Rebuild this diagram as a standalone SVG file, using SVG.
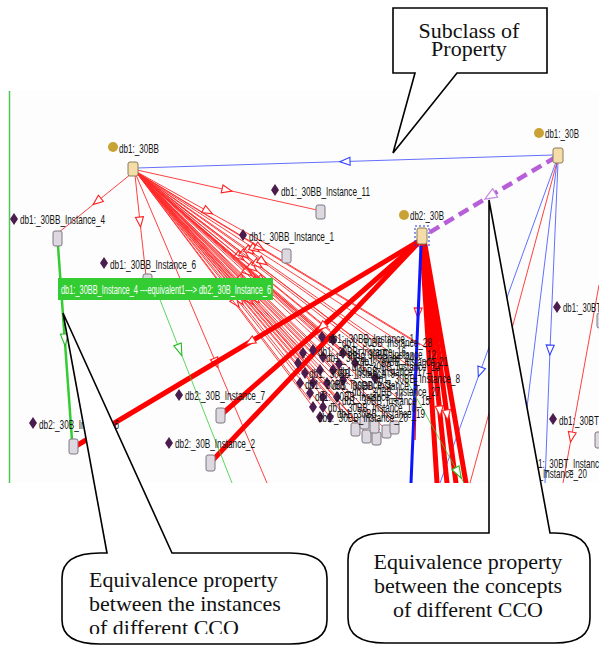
<svg xmlns="http://www.w3.org/2000/svg" xmlns:xlink="http://www.w3.org/1999/xlink" width="599" height="647" viewBox="0 0 599 647">
<style>
.lbl{font-family:"Liberation Sans",Arial,sans-serif;font-size:13px;fill:#141414}
.cc{fill:#c9a235}
.cs{fill:#f4dda8;stroke:#8a7a5a;stroke-width:1}
.dd{fill:#4b1d4f}
.is{fill:#ddd7e0;stroke:#7d7880;stroke-width:1}
.r{stroke:#ff2a2a;stroke-width:0.9;fill:none}
.rm{marker-mid:url(#ar)}
.rt{stroke:#ff0000;stroke-width:5;fill:none;stroke-linecap:round}
.b{stroke:#5060ff;stroke-width:0.9;fill:none;marker-mid:url(#ab)}
.g{stroke:#33cc33;fill:none;marker-mid:url(#ag)}
.call{fill:#fff;stroke:#000;stroke-width:1.6;stroke-linejoin:miter}
.ct{font-family:"Liberation Serif","Times New Roman",serif;font-size:22px;fill:#111}
</style>
<defs>
<marker id="ar" viewBox="0 0 12 10" refX="6" refY="5" markerWidth="12" markerHeight="10" markerUnits="userSpaceOnUse" orient="auto"><path d="M1,1 L11,5 L1,9 Z" fill="#fff" stroke="#ff2020" stroke-width="1.1"/></marker>
<marker id="ab" viewBox="0 0 12 10" refX="6" refY="5" markerWidth="12" markerHeight="10" markerUnits="userSpaceOnUse" orient="auto"><path d="M1,1 L11,5 L1,9 Z" fill="#fff" stroke="#3040ff" stroke-width="1.1"/></marker>
<marker id="ag" viewBox="0 0 14 10" refX="7" refY="5" markerWidth="14" markerHeight="10" markerUnits="userSpaceOnUse" orient="auto"><path d="M1,1 L13,5 L1,9 Z" fill="#fff" stroke="#22bb22" stroke-width="1.1"/></marker>
<marker id="ap" viewBox="0 0 14 12" refX="7" refY="6" markerWidth="14" markerHeight="12" markerUnits="userSpaceOnUse" orient="auto"><path d="M1,1 L13,6 L1,11 Z" fill="#fff" stroke="#c48ae0" stroke-width="1.2"/></marker>
<path id="dia" d="M0,-6 L4,0 L0,6 L-4,0 Z"/>
<clipPath id="scr"><rect x="9" y="91" width="590" height="392"/></clipPath>
<clipPath id="lt"><rect x="60" y="560" width="270" height="74"/></clipPath>
</defs>

<rect x="9" y="91" width="590" height="392" fill="#fdfdfd"/>
<line x1="9.5" y1="91" x2="9.5" y2="483" stroke="#55c455" stroke-width="1.5"/>

<g clip-path="url(#scr)">
<g id="connectors">
<!-- fan from db1:_30BB to cluster -->
<path class="r rm" d="M136,172 L240,257 L330,330"/>
<path class="r rm" d="M136,172 L245,255 L350,335"/>
<path class="r rm" d="M136,172 L250,251 L375,338"/>
<path class="r rm" d="M136,172 L255,249 L400,342"/>
<path class="r rm" d="M136,172 L260,248 L420,345"/>
<path class="r rm" d="M136,172 L242,280 L310,350"/>
<path class="r rm" d="M136,172 L248,272.5 L340,355"/>
<path class="r rm" d="M136,172 L253,268 L365,360"/>
<path class="r rm" d="M136,172 L258,264.7 L390,365"/>
<path class="r rm" d="M136,172 L263,262 L415,370"/>
<path class="r rm" d="M136,172 L240,300.7 L300,375"/>
<path class="r rm" d="M136,172 L246,293 L325,380"/>
<path class="r rm" d="M136,172 L251,286.4 L350,385"/>
<path class="r rm" d="M136,172 L256,282.4 L375,392"/>
<path class="r rm" d="M136,172 L262,280.8 L400,400"/>
<path class="r rm" d="M136,172 L236,303 L310,400"/>
<path class="r rm" d="M136,172 L244,298 L340,410"/>
<path class="r rm" d="M136,172 L250,300.8 L360,425"/>
<path class="r rm" d="M136,172 L256,299 L380,430"/>
<path class="r rm" d="M136,172 L262,295 L395,425"/>
<path class="r" d="M136,172 L355,425"/>
<path class="r" d="M136,172 L368,435"/>
<path class="r" d="M136,172 L386,430"/>
<path class="r" d="M136,172 L322,337"/>
<path class="r" d="M136,172 L333,340"/>
<path class="r" d="M136,172 L303,353"/>
<path class="r" d="M136,172 L343,353"/>
<path class="r" d="M136,172 L355,363"/>
<path class="r" d="M136,172 L320,370"/>
<path class="r" d="M136,172 L375,378"/>
<path class="r" d="M136,172 L313,383"/>
<path class="r" d="M136,172 L343,380"/>
<path class="r" d="M136,172 L323,397"/>
<path class="r" d="M136,172 L337,397"/>
<path class="r" d="M136,172 L313,407"/>
<path class="r" d="M136,172 L330,417"/>
<path class="r" d="M136,172 L394,421"/>
<path class="r" d="M136,172 L430,350"/>
<path class="r" d="M136,172 L410,385"/>
<!-- db1:_30BB to its instances -->
<path class="r rm" d="M131,174 L97,201.5 L58,233"/>
<path class="r rm" d="M137,170 L227,190 L317,210"/>
<path class="r rm" d="M137,172 L208,211.4 L283,253"/>
<path class="r rm" d="M135,175 L140,222 L146,276"/>
<path class="r rm" d="M136,175 L216,363 L267,483"/>
<!-- subclass (blue) -->
<path class="b" d="M553,155 L345,161.5 L137,168"/>
<!-- equivalence between concepts (purple dashed) -->
<path d="M556,157 L490,196 L427,234" stroke="#b65fd9" stroke-width="4.5" stroke-dasharray="11 6" fill="none" marker-mid="url(#ap)"/>
<!-- db1:_30B blue/red edges -->
<path class="b" d="M556,162 L480,372 L440,483"/>
<path class="b" d="M557,162 L524,432 L518,483"/>
<path class="b" d="M558,162 L550,350 L545,483"/>
<path class="r rm" d="M557,162 L507,347 L470,483"/>
<path class="r rm" d="M599,285 L571.4,437 L563,483"/>
<!-- thick edges from db2:_30B -->
<path class="rt rm" d="M421,240 L250,342 L76,446"/>
<path class="rt rm" d="M421,240 L321.5,327 L222,414"/>
<path class="rt" d="M421,240 L212,461"/>
<path class="rt" d="M422,245 L437,483"/>
<path class="rt rm" d="M423,245 L439.7,411 L447,483"/>
<path class="rt rm" d="M424,245 L447,415 L456,483"/>
<path class="rt" d="M425,245 L466,483"/>
<path d="M421,246 L418,313 L415,440" stroke="#ff0000" stroke-width="1.3" fill="none" marker-mid="url(#ar)"/>
<line x1="421" y1="246" x2="411" y2="483" stroke="#0a14ff" stroke-width="3"/>
<!-- green edges -->
<path class="g" stroke-width="2.5" d="M58,246 L64.8,340 L72,440"/>
<path class="g" stroke-width="0.8" d="M155,287 L179.7,350 L232,483"/>
<path class="g" stroke-width="0.8" d="M387,345 L458.4,473 L464,483"/>
</g>

<g id="node-db1-30BB"><circle class="cc" cx="113" cy="147" r="5"/><text class="lbl" x="119" y="153" textLength="40" lengthAdjust="spacingAndGlyphs">db1:_30BB</text><rect class="cs" x="128" y="162" width="10" height="14" rx="2"/></g>
<g id="node-db1-30B"><circle class="cc" cx="539" cy="133" r="5"/><text class="lbl" x="545" y="138" textLength="34" lengthAdjust="spacingAndGlyphs">db1:_30B</text><rect class="cs" x="553" y="148" width="10" height="15" rx="2"/></g>
<g id="node-db2-30B"><circle class="cc" cx="404" cy="215" r="5"/><text class="lbl" x="410" y="220" textLength="34" lengthAdjust="spacingAndGlyphs">db2:_30B</text><rect class="cs" x="417" y="228" width="10" height="16" rx="2"/><rect x="415" y="226" width="14" height="20" fill="none" stroke="#2233dd" stroke-width="1" stroke-dasharray="2 2"/></g>
<g id="node-db1-inst4"><use href="#dia" x="14" y="219" class="dd"/><text class="lbl" x="20" y="224" textLength="85" lengthAdjust="spacingAndGlyphs">db1:_30BB_Instance_4</text><rect class="is" x="53" y="231" width="9" height="15" rx="2"/></g>
<g id="node-db1-inst11"><use href="#dia" x="275" y="190" class="dd"/><text class="lbl" x="281" y="196" textLength="89" lengthAdjust="spacingAndGlyphs">db1:_30BB_Instance_11</text><rect class="is" x="316" y="205" width="9" height="14" rx="2"/></g>
<g id="node-db1-inst1"><use href="#dia" x="243" y="235" class="dd"/><text class="lbl" x="249" y="241" textLength="85" lengthAdjust="spacingAndGlyphs">db1:_30BB_Instance_1</text><rect class="is" x="282" y="249" width="9" height="14" rx="2"/></g>
<g id="node-db1-inst6"><use href="#dia" x="104" y="263" class="dd"/><text class="lbl" x="110" y="269" textLength="86" lengthAdjust="spacingAndGlyphs">db1:_30BB_Instance_6</text><rect class="is" x="143" y="274" width="9" height="14" rx="2"/></g>
<g id="node-db2-inst6"><use href="#dia" x="33" y="423" class="dd"/><text class="lbl" x="39" y="429" textLength="80" lengthAdjust="spacingAndGlyphs">db2:_30B_Instance_6</text><rect class="is" x="69" y="439" width="9" height="15" rx="2"/></g>
<g id="node-db2-inst7"><use href="#dia" x="179" y="395" class="dd"/><text class="lbl" x="185" y="400" textLength="80" lengthAdjust="spacingAndGlyphs">db2:_30B_Instance_7</text><rect class="is" x="216" y="408" width="9" height="15" rx="2"/></g>
<g id="node-db2-inst2"><use href="#dia" x="169" y="443" class="dd"/><text class="lbl" x="175" y="448" textLength="80" lengthAdjust="spacingAndGlyphs">db2:_30B_Instance_2</text><rect class="is" x="206" y="455" width="9" height="16" rx="2"/></g>
<g id="node-db1-30BT-a"><use href="#dia" x="557" y="307" class="dd"/><text class="lbl" x="563" y="312" textLength="38" lengthAdjust="spacingAndGlyphs">db1:_30BT</text><rect class="is" x="597" y="313" width="9" height="15" rx="2"/></g>
<g id="node-db1-30BT-b"><use href="#dia" x="553" y="419" class="dd"/><text class="lbl" x="559" y="425" textLength="40" lengthAdjust="spacingAndGlyphs">db1:_30BT</text><rect class="is" x="595" y="432" width="9" height="16" rx="2"/></g>
<g id="node-db1-30BT-inst"><use href="#dia" x="523" y="462" class="dd"/><text class="lbl" x="529" y="468" textLength="70" lengthAdjust="spacingAndGlyphs">db1:_30BT_Instanc</text></g>
<g id="node-db1-30BT-inst20"><use href="#dia" x="493" y="473" class="dd"/><text class="lbl" x="499" y="478" textLength="88" lengthAdjust="spacingAndGlyphs">db1:_30BT_Instance_20</text></g>

<g id="node-cluster">
<rect class="is" x="351" y="423" width="9" height="13" rx="2"/>
<rect class="is" x="362" y="430" width="9" height="13" rx="2"/>
<rect class="is" x="372" y="432" width="9" height="13" rx="2"/>
<rect class="is" x="382" y="425" width="9" height="13" rx="2"/>
<rect class="is" x="390" y="421" width="9" height="13" rx="2"/>
<rect class="is" x="370" y="420" width="9" height="13" rx="2"/>
<rect class="is" x="360" y="416" width="9" height="13" rx="2"/>
<g class="dd">
<use href="#dia" x="322" y="337"/><use href="#dia" x="333" y="340"/><use href="#dia" x="303" y="353"/><use href="#dia" x="313" y="350"/>
<use href="#dia" x="323" y="357"/><use href="#dia" x="343" y="353"/><use href="#dia" x="305" y="373"/><use href="#dia" x="320" y="370"/>
<use href="#dia" x="333" y="370"/><use href="#dia" x="300" y="383"/><use href="#dia" x="313" y="383"/><use href="#dia" x="327" y="383"/>
<use href="#dia" x="343" y="380"/><use href="#dia" x="355" y="363"/><use href="#dia" x="375" y="378"/><use href="#dia" x="310" y="393"/>
<use href="#dia" x="323" y="397"/><use href="#dia" x="337" y="397"/><use href="#dia" x="313" y="407"/><use href="#dia" x="323" y="407"/>
<use href="#dia" x="320" y="417"/><use href="#dia" x="330" y="417"/><use href="#dia" x="298" y="363"/><use href="#dia" x="339" y="364"/>
</g>
<text class="lbl" x="328" y="343" textLength="86" lengthAdjust="spacingAndGlyphs">db1:_30BB_Instance_1</text>
<text class="lbl" x="342" y="347" textLength="90" lengthAdjust="spacingAndGlyphs">db1:_30BB_Instance_28</text>
<text class="lbl" x="318" y="356" textLength="88" lengthAdjust="spacingAndGlyphs">db1:_30BB_Instance_16</text>
<text class="lbl" x="348" y="359" textLength="88" lengthAdjust="spacingAndGlyphs">db1:_30BB_Instance_12</text>
<text class="lbl" x="360" y="366" textLength="88" lengthAdjust="spacingAndGlyphs">db1:_30BB_Instance_21</text>
<text class="lbl" x="326" y="362" textLength="88" lengthAdjust="spacingAndGlyphs">db1:_30BB_Instance_24</text>
<text class="lbl" x="309" y="378" textLength="86" lengthAdjust="spacingAndGlyphs">db1:_30BB_Instance_9</text>
<text class="lbl" x="338" y="376" textLength="88" lengthAdjust="spacingAndGlyphs">db1:_30BB_Instance_17</text>
<text class="lbl" x="352" y="371" textLength="88" lengthAdjust="spacingAndGlyphs">db1:_30BB_Instance_23</text>
<text class="lbl" x="374" y="383" textLength="86" lengthAdjust="spacingAndGlyphs">db1:_30BB_Instance_8</text>
<text class="lbl" x="305" y="389" textLength="86" lengthAdjust="spacingAndGlyphs">db1:_30BB_Instance_3</text>
<text class="lbl" x="332" y="390" textLength="86" lengthAdjust="spacingAndGlyphs">db1:_30BB_Instance_5</text>
<text class="lbl" x="352" y="396" textLength="88" lengthAdjust="spacingAndGlyphs">db1:_30BB_Instance_27</text>
<text class="lbl" x="315" y="401" textLength="88" lengthAdjust="spacingAndGlyphs">db1:_30BB_Instance_14</text>
<text class="lbl" x="342" y="405" textLength="88" lengthAdjust="spacingAndGlyphs">db1:_30BB_Instance_15</text>
<text class="lbl" x="328" y="412" textLength="88" lengthAdjust="spacingAndGlyphs">db1:_30BB_Instance_10</text>
<text class="lbl" x="337" y="418" textLength="88" lengthAdjust="spacingAndGlyphs">db1:_30BB_Instance_19</text>
<text class="lbl" x="318" y="422" textLength="90" lengthAdjust="spacingAndGlyphs">db1:_30BB_Instance_20</text>
</g>

<g id="edge-label">
<rect x="58" y="278" width="215" height="22" fill="#33cc33"/>
<text x="61" y="294" font-family="Liberation Sans, Arial, sans-serif" font-size="12.5" fill="#fff" textLength="210" lengthAdjust="spacingAndGlyphs">db1:_30BB_Instance_4 ---equivalent1---&gt; db2:_30B_Instance_6</text>
</g>
</g>

<g id="callout-subclass">
<path class="call" d="M393,8 H547 V73 H457 L393,153 L415,73 H393 Z"/>
<text class="ct" x="469" y="38" font-size="19.5" text-anchor="middle">Subclass of</text>
<text class="ct" x="469" y="56" font-size="19.5" text-anchor="middle">Property</text>
</g>
<g id="callout-instances">
<path class="call" d="M107,553 L63,313 L172,553 L290,553 Q327,553 327,578 L327,620 Q327,644 290,644 L100,644 Q62,644 62,620 L62,578 Q62,553 100,553 Z"/>
<g clip-path="url(#lt)">
<text class="ct" x="89" y="587">Equivalence property</text>
<text class="ct" x="89" y="611">between the instances</text>
<text class="ct" x="89" y="635">of different CCO</text>
</g>
</g>
<g id="callout-concepts">
<path class="call" d="M489,533 L489,200 L550,533 L555,533 Q590,533 590,560 L590,618 Q590,643 555,643 L385,643 Q348,643 348,618 L348,560 Q348,533 385,533 Z"/>
<text class="ct" x="468" y="569" text-anchor="middle">Equivalence property</text>
<text class="ct" x="468" y="593" text-anchor="middle">between the concepts</text>
<text class="ct" x="468" y="617" text-anchor="middle">of different CCO</text>
</g>
</svg>
